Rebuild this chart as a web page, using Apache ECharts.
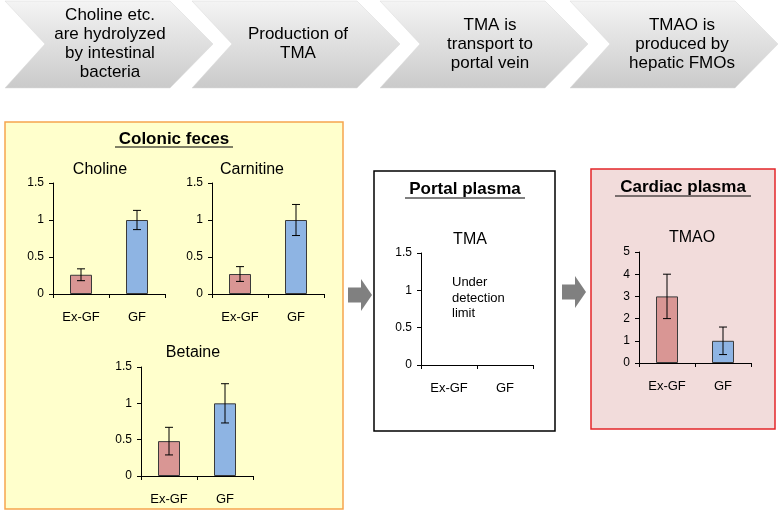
<!DOCTYPE html>
<html>
<head>
<meta charset="utf-8">
<script src="https://cdn.jsdelivr.net/npm/echarts@6/dist/echarts.min.js"></script>
<style>html,body{margin:0;padding:0;background:#fff;}#c{width:781px;height:510px;}</style>
</head>
<body>
<div id="c"></div>
<script>
// ---- data ----
var categories = ['Ex-GF', 'GF'];
var cholineMean = [0.26, 1.0];
var cholineErr = [0.08, 0.13];
var carnitineMean = [0.27, 1.0];
var carnitineErr = [0.10, 0.21];
var betaineMean = [0.48, 1.0];
var betaineErr = [0.19, 0.27];
var tmaMean = [null, null];
var tmaErr = [null, null];
var tmaoMean = [3.0, 1.0];
var tmaoErr = [1.0, 0.62];
var ticksFeces = [0, 0.5, 1, 1.5];
var ticksTmao = [0, 1, 2, 3, 4, 5];
var steps = [
  'Choline etc.\nare hydrolyzed\nby intestinal\nbacteria',
  'Production of\nTMA',
  'TMA is\ntransport to\nportal vein',
  'TMAO is\nproduced by\nhepatic FMOs'
];

var FONT = '"Liberation Sans", Arial, sans-serif';
var barColors = ['#d99694', '#8eb4e3'];

var panels = [
  {name: 'Choline', mean: cholineMean, err: cholineErr, ticks: ticksFeces, left: 53, top: 183, h: 111, tx: 100, ty: 170},
  {name: 'Carnitine', mean: carnitineMean, err: carnitineErr, ticks: ticksFeces, left: 212, top: 183, h: 111, tx: 252, ty: 170},
  {name: 'Betaine', mean: betaineMean, err: betaineErr, ticks: ticksFeces, left: 141, top: 367, h: 109, tx: 193, ty: 353},
  {name: 'TMA', mean: tmaMean, err: tmaErr, ticks: ticksFeces, left: 421, top: 253, h: 112, tx: 470, ty: 240},
  {name: 'TMAO', mean: tmaoMean, err: tmaoErr, ticks: ticksTmao, left: 639, top: 252, h: 111, tx: 692, ty: 238}
];

var grids = [], xAxes = [], yAxes = [], series = [], graphics = [];

// background boxes
graphics.push({type: 'rect', z: -10, shape: {x: 5, y: 122, width: 338, height: 387},
  style: {fill: '#ffffcc', stroke: '#f6a54e', lineWidth: 1.5}});
graphics.push({type: 'rect', z: -10, shape: {x: 374, y: 171, width: 181, height: 260},
  style: {fill: '#ffffff', stroke: '#000000', lineWidth: 1.5}});
graphics.push({type: 'rect', z: -10, shape: {x: 591, y: 169, width: 184, height: 260},
  style: {fill: '#f2dcdb', stroke: '#e3262a', lineWidth: 1.5}});

// chevrons
var chevX = [5, 192, 380, 570];
var chevTextX = [110, 298, 490, 682];
chevX.forEach(function (x0, i) {
  graphics.push({type: 'polygon', z: -10,
    shape: {points: [[x0, 1], [x0 + 165, 1], [x0 + 208, 44], [x0 + 165, 88], [x0, 88], [x0 + 40, 44]]},
    style: {fill: new echarts.graphic.LinearGradient(0, 0, 0, 1, [
      {offset: 0, color: '#f4f4f4'}, {offset: 1, color: '#cacaca'}]),
      stroke: '#d8d8d8', lineWidth: 0.5}});
  graphics.push({type: 'text', z: 5, style: {x: chevTextX[i], y: 44, text: steps[i],
    textAlign: 'center', textVerticalAlign: 'middle', font: '17px ' + FONT, lineHeight: 19, fill: '#000'}});
});

// arrows
function arrow(x0, yc) {
  return {type: 'polygon', z: -5, shape: {points: [
    [x0, yc - 7.5], [x0 + 13, yc - 7.5], [x0 + 13, yc - 16], [x0 + 24, yc], [x0 + 13, yc + 16],
    [x0 + 13, yc + 7.5], [x0, yc + 7.5]]}, style: {fill: '#808080'}};
}
graphics.push(arrow(348, 295));
graphics.push(arrow(562, 292));

// box titles with underline
function boxTitle(text, cx, cy, w, uy) {
  graphics.push({type: 'text', z: 5, style: {x: cx, y: cy, text: text, textAlign: 'center',
    textVerticalAlign: 'middle', font: 'bold 17px ' + FONT, fill: '#000'}});
  graphics.push({type: 'line', z: 5, shape: {x1: cx - w / 2, y1: uy, x2: cx + w / 2, y2: uy},
    style: {stroke: '#000', lineWidth: 1}});
}
boxTitle('Colonic feces', 174, 139, 118, 147);
boxTitle('Portal plasma', 465, 189, 120, 198);
boxTitle('Cardiac plasma', 683, 187, 136, 196);

graphics.push({type: 'text', z: 5, style: {x: 452, y: 298, text: 'Under\ndetection\nlimit',
  textAlign: 'left', textVerticalAlign: 'middle', font: '13px ' + FONT, lineHeight: 15.5, fill: '#000'}});

panels.forEach(function (p, i) {
  var maxV = p.ticks[p.ticks.length - 1];
  grids.push({left: p.left, top: p.top, width: 112, height: p.h, containLabel: false});
  xAxes.push({type: 'category', gridIndex: i, data: categories,
    axisLine: {lineStyle: {color: '#000', width: 1}},
    axisTick: {show: true, length: 4, lineStyle: {color: '#000'}},
    axisLabel: {color: '#000', fontSize: 13, fontFamily: FONT, margin: 17}});
  yAxes.push({type: 'value', gridIndex: i, min: 0, max: maxV, interval: p.ticks[1] - p.ticks[0],
    splitLine: {show: false},
    axisLine: {show: true, lineStyle: {color: '#000', width: 1}},
    axisTick: {show: true, length: 4, lineStyle: {color: '#000'}},
    axisLabel: {color: '#000', fontSize: 12, fontFamily: FONT, margin: 9}});
  series.push({type: 'bar', xAxisIndex: i, yAxisIndex: i, barWidth: 22,
    data: p.mean.map(function (v, j) {
      return {value: v, itemStyle: {color: barColors[j], borderColor: '#3a3a3a', borderWidth: 1}};
    })});
  series.push({type: 'custom', xAxisIndex: i, yAxisIndex: i, z: 5,
    data: p.mean.map(function (v, j) { return [j, v, p.err[j]]; }).filter(function (d) { return d[1] != null; }),
    renderItem: function (params, api) {
      var x = api.value(0), m = api.value(1), e = api.value(2);
      var t = api.coord([x, m + e]), b = api.coord([x, m - e]);
      var st = {stroke: '#000', lineWidth: 1};
      return {type: 'group', children: [
        {type: 'line', shape: {x1: t[0], y1: t[1], x2: b[0], y2: b[1]}, style: st},
        {type: 'line', shape: {x1: t[0] - 4, y1: t[1], x2: t[0] + 4, y2: t[1]}, style: st},
        {type: 'line', shape: {x1: b[0] - 4, y1: b[1], x2: b[0] + 4, y2: b[1]}, style: st}
      ]};
    }});
  // panel title
  graphics.push({type: 'text', z: 5, style: {x: p.tx, y: p.ty,
    text: p.name, textAlign: 'center', textVerticalAlign: 'middle', font: '16px ' + FONT, fill: '#000'}});
});

var chart = echarts.init(document.getElementById('c'), null, {renderer: 'canvas'});
chart.setOption({
  animation: false,
  backgroundColor: '#ffffff',
  grid: grids,
  xAxis: xAxes,
  yAxis: yAxes,
  series: series,
  graphic: graphics
});
</script>
</body>
</html>
